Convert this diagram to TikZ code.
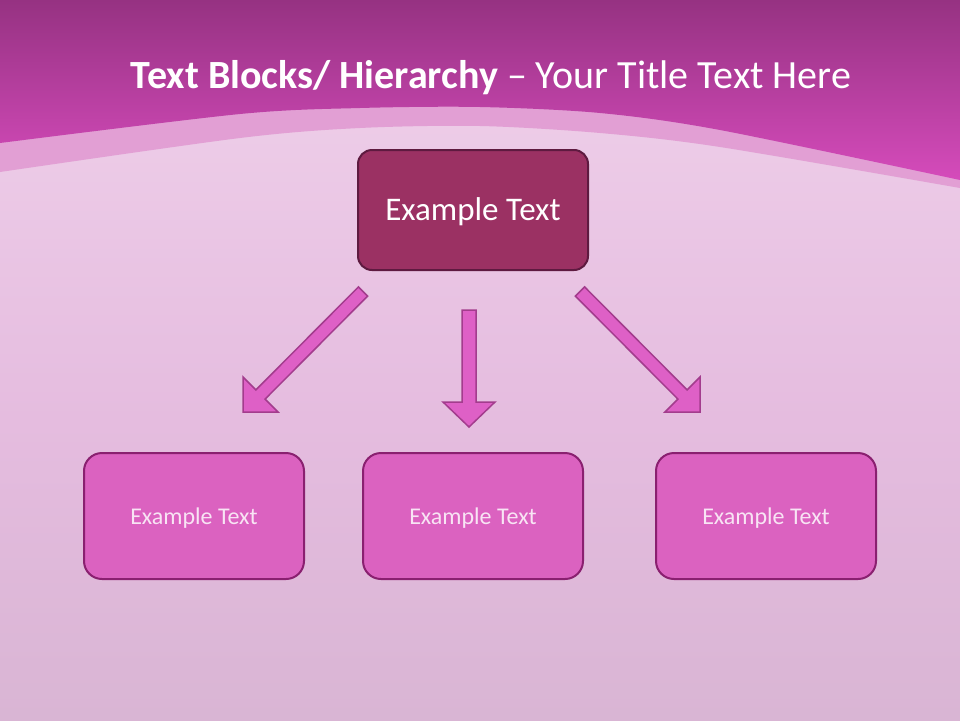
\documentclass[tikz,border=0pt]{standalone}
\usepackage{fontspec}
\setmainfont{Carlito}
\usetikzlibrary{calc}
\definecolor{bgtop}{HTML}{F0D2EB}
\definecolor{bgmid}{HTML}{E5BCDF}
\definecolor{bgbot}{HTML}{D9B5D4}
\definecolor{bandtop}{HTML}{963282}
\definecolor{bandbot}{HTML}{D54BBB}
\definecolor{band}{HTML}{E29FD4}
\definecolor{topfill}{HTML}{9B3163}
\definecolor{topdraw}{HTML}{5E1A40}
\definecolor{boxfill}{HTML}{DB62C0}
\definecolor{boxdraw}{HTML}{8A2070}
\definecolor{arrfill}{HTML}{DE60C6}
\definecolor{arrdraw}{HTML}{A33C8D}
\definecolor{boxtext}{HTML}{F8E4F4}
\tikzset{
  topbox/.style={draw=topdraw, line width=2pt, fill=topfill, rounded corners=14pt,
    minimum width=230pt, minimum height=120pt, text=white, font=\fontsize{33}{38}\selectfont},
  childbox/.style={draw=boxdraw, line width=2pt, fill=boxfill, rounded corners=18pt,
    minimum width=220pt, minimum height=126pt, text=boxtext, font=\fontsize{24}{29}\selectfont},
  blockarrow/.style={draw=arrdraw, line width=1.5pt, fill=arrfill, line join=miter},
  boxlabel/.style={text=#1, anchor=center},
}
\begin{document}
\begin{tikzpicture}[x=1pt,y=-1pt]
\useasboundingbox (0,0) rectangle (960,720);
% background
\shade[top color=bgtop, bottom color=bgmid] (0,0) rectangle (960,420);
\shade[top color=bgmid, bottom color=bgbot] (0,420) rectangle (960,720);
% light band
\fill[band] (960,0) -- (0,0) -- plot[smooth] coordinates {(0,172) (240,138) (360,128) (480,126) (600,133) (720,147) (960,188)} -- cycle;
% top magenta
\shade[top color=bandtop, bottom color=bandbot] (960,0) -- (0,0) -- plot[smooth] coordinates {(0,143) (240,114) (360,108) (480,107) (600,113) (720,130) (960,180)} -- cycle;
% title
\node[text=white, font=\fontsize{40}{46}\selectfont, anchor=base] (title) at (491,88)
  {\textbf{Text Blocks/ Hierarchy} – Your Title Text Here};
% boxes
\node[topbox, text depth=0pt, text height=0pt, inner sep=0pt] (top) at (473,210) {};
\node[text=white, font=\fontsize{33}{38}\selectfont] (toplabel) at (473,212) {Example Text};
\node[childbox] (c1) at (194,516) {};
\node[childbox] (c2) at (473,516) {};
\node[childbox] (c3) at (766,516) {};
\node[text=boxtext, font=\fontsize{24}{29}\selectfont] (l1) at (194,518) {Example Text};
\node[text=boxtext, font=\fontsize{24}{29}\selectfont] (l2) at (473,518) {Example Text};
\node[text=boxtext, font=\fontsize{24}{29}\selectfont] (l3) at (766,518) {Example Text};
% left arrow
\draw[blockarrow] (358.4,286.9) -- (255.9,389.9) -- (243,377) -- (243,412) -- (278,412) -- (265.1,399.1) -- (367.6,296.1) -- cycle;
% middle arrow
\draw[blockarrow] (462,310) -- (462,402) -- (443,402) -- (469,427) -- (495,402) -- (476,402) -- (476,310) -- cycle;
% right arrow
\draw[blockarrow] (584.6,286.9) -- (687.1,389.9) -- (700,377) -- (700,412) -- (665,412) -- (677.9,399.1) -- (575.4,296.1) -- cycle;
\end{tikzpicture}
\end{document}
